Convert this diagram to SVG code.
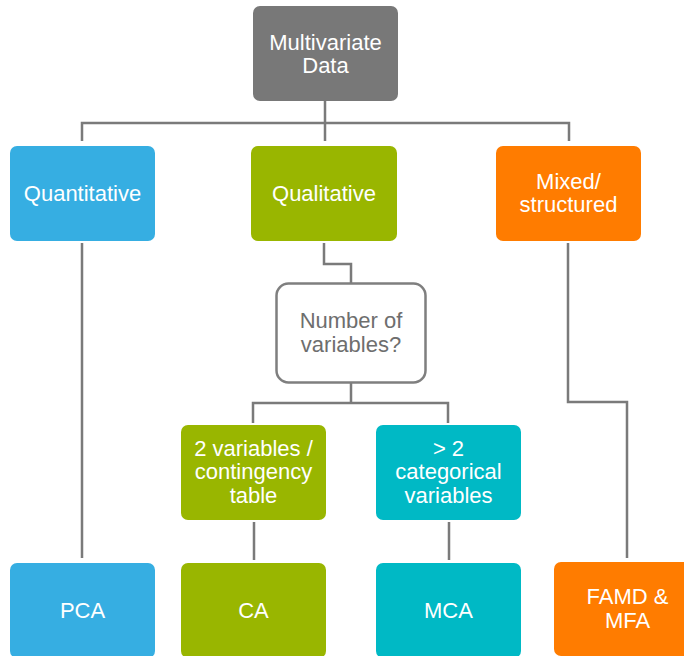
<svg xmlns="http://www.w3.org/2000/svg" width="684" height="656" viewBox="0 0 684 656">
<style>
.t{font-family:"Liberation Sans",Arial,sans-serif;font-size:22px;fill:#ffffff;text-anchor:middle}
.g{fill:#6e6e6e}
.c{fill:none;stroke:#7a7a7a;stroke-width:2.5}
</style>
<rect width="684" height="656" fill="#ffffff"/>
<g id="connectors">
<path class="c" d="M325 101 V141 M82 141 V123 H569 V141"/>
<path class="c" d="M82 243 V558"/>
<path class="c" d="M324 243 V264 H351 V283"/>
<path class="c" d="M351 383 V403 M253 423 V403 H448 V423"/>
<path class="c" d="M254 522 V560 M449 522 V560"/>
<path class="c" d="M568 243 V402 H627 V558"/>
</g>
<g id="multivariate">
<rect x="253" y="6" width="145" height="95" rx="7" fill="#787878"/>
<text class="t" x="325.5" y="49.5">Multivariate</text>
<text class="t" x="325.5" y="73">Data</text>
</g>
<g id="quantitative">
<rect x="10" y="146" width="145" height="95" rx="7" fill="#36aee2"/>
<text class="t" x="82.5" y="201">Quantitative</text>
</g>
<g id="qualitative">
<rect x="251" y="146" width="146" height="95" rx="7" fill="#99b600"/>
<text class="t" x="324" y="201">Qualitative</text>
</g>
<g id="mixed">
<rect x="496" y="146" width="145" height="95" rx="7" fill="#ff7c00"/>
<text class="t" x="568.5" y="188.5">Mixed/</text>
<text class="t" x="568.5" y="212">structured</text>
</g>
<g id="number">
<rect x="276.5" y="283.5" width="149" height="99" rx="12" fill="#ffffff" stroke="#7f7f7f" stroke-width="2.5"/>
<text class="t g" x="351" y="328">Number of</text>
<text class="t g" x="351" y="352">variables?</text>
</g>
<g id="twovars">
<rect x="181" y="425" width="145" height="95" rx="7" fill="#99b600"/>
<text class="t" x="253.5" y="455.5">2 variables /</text>
<text class="t" x="253.5" y="479">contingency</text>
<text class="t" x="253.5" y="502.5">table</text>
</g>
<g id="morevars">
<rect x="376" y="425" width="145" height="95" rx="7" fill="#00b9c5"/>
<text class="t" x="448.5" y="455.5">&gt; 2</text>
<text class="t" x="448.5" y="479">categorical</text>
<text class="t" x="448.5" y="502.5">variables</text>
</g>
<g id="pca">
<rect x="10" y="563" width="145" height="95" rx="7" fill="#36aee2"/>
<text class="t" x="82.5" y="618">PCA</text>
</g>
<g id="ca">
<rect x="181" y="563" width="145" height="95" rx="7" fill="#99b600"/>
<text class="t" x="253.5" y="618">CA</text>
</g>
<g id="mca">
<rect x="376" y="563" width="145" height="95" rx="7" fill="#00b9c5"/>
<text class="t" x="448.5" y="618">MCA</text>
</g>
<g id="famd">
<rect x="554" y="562" width="148" height="94" rx="7" fill="#ff7c00"/>
<text class="t" x="627.5" y="604">FAMD &amp;</text>
<text class="t" x="627.5" y="627.5">MFA</text>
</g>
</svg>
